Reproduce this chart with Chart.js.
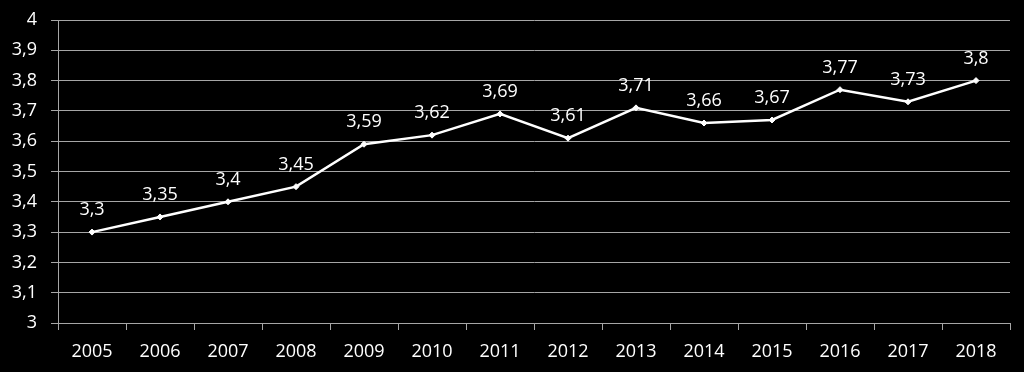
<!DOCTYPE html>
<html>
<head>
<meta charset="utf-8">
<script src="https://cdn.jsdelivr.net/npm/chart.js@4/dist/chart.umd.min.js"></script>
<style>
  html, body { margin: 0; padding: 0; background: #000; }
  #wrap { width: 1024px; height: 372px; }
</style>
</head>
<body>
<div id="wrap"><canvas id="chart" width="1024" height="372"></canvas></div>
<script>
// Chart data
const years = ['2005', '2006', '2007', '2008', '2009', '2010', '2011', '2012', '2013', '2014', '2015', '2016', '2017', '2018'];
const values = [3.3, 3.35, 3.4, 3.45, 3.59, 3.62, 3.69, 3.61, 3.71, 3.66, 3.67, 3.77, 3.73, 3.8];
const yMin = 3;
const yMax = 4;
const yStep = 0.1;

const fmt = v => String(Math.round(v * 100) / 100).replace('.', ',');
const gridColor = '#a6a6a6';
const fontFamily = '"Open Sans", "Noto Sans", sans-serif';

// Value labels above each point
const pointLabels = {
    id: 'pointLabels',
    afterDatasetsDraw(chart) {
        const ctx = chart.ctx;
        const meta = chart.getDatasetMeta(0);
        ctx.save();
        ctx.fillStyle = '#fff';
        ctx.font = '18px ' + fontFamily;
        ctx.textAlign = 'center';
        ctx.textBaseline = 'middle';
        meta.data.forEach((pt, i) => {
            ctx.fillText(fmt(values[i]), pt.x, pt.y - 22);
        });
        ctx.restore();
    }
};

new Chart(document.getElementById('chart'), {
    type: 'line',
    data: {
        labels: years,
        datasets: [{
            data: values,
            borderColor: '#fff',
            borderWidth: 2.5,
            backgroundColor: '#fff',
            pointStyle: 'rectRot',
            pointRadius: 3,
            pointBorderWidth: 1,
            tension: 0
        }]
    },
    options: {
        responsive: false,
        animation: false,
        layout: { padding: { top: 20, right: 14, left: 0, bottom: 3 } },
        plugins: { legend: { display: false }, tooltip: { enabled: false } },
        scales: {
            x: {
                offset: true,
                grid: {
                    offset: true,
                    drawOnChartArea: false,
                    drawTicks: true,
                    tickLength: 7,
                    color: gridColor
                },
                border: { display: true, color: gridColor },
                ticks: {
                    color: '#fff',
                    font: { size: 18, family: fontFamily },
                    padding: 11,
                    maxRotation: 0
                },
                afterFit: s => { s.height = 46; }
            },
            y: {
                min: yMin,
                max: yMax,
                grid: { color: gridColor, tickLength: 7 },
                border: { display: true, color: gridColor },
                ticks: {
                    stepSize: yStep,
                    color: '#fff',
                    font: { size: 18, family: fontFamily },
                    padding: 14,
                    callback: v => fmt(v)
                },
                afterFit: s => {
                    s.width = 58;
                    s.paddingTop = 0;
                    s.paddingBottom = 0;
                }
            }
        }
    },
    plugins: [pointLabels]
});
</script>
</body>
</html>
